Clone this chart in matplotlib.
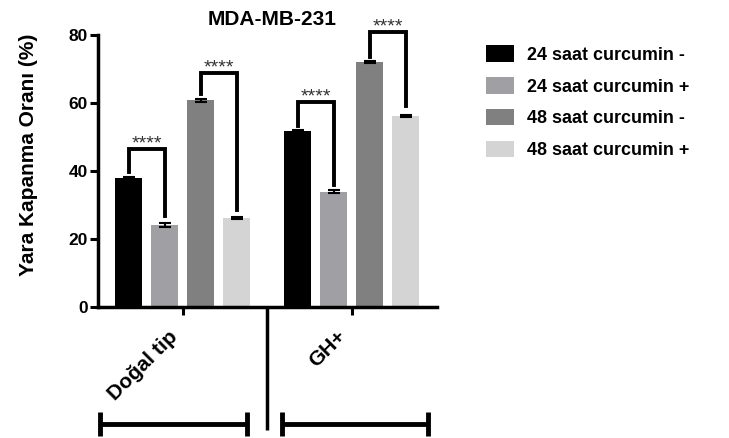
import matplotlib
matplotlib.use("Agg")
import matplotlib.pyplot as plt
from matplotlib.patches import Patch
from matplotlib.transforms import blended_transform_factory
import numpy as np

plt.rcParams['font.family'] = ['Liberation Sans', 'DejaVu Sans']
plt.rcParams['font.weight'] = 'bold'

# Data
groups = ["Doğal tip", "GH+"]
series = ["24 saat curcumin -", "24 saat curcumin +", "48 saat curcumin -", "48 saat curcumin +"]
values = {
    "Doğal tip": [37.8, 24.1, 60.7, 26.2],
    "GH+": [51.8, 33.9, 72.0, 56.2],
}
errors = {
    "Doğal tip": [0.4, 0.5, 0.4, 0.3],
    "GH+": [0.3, 0.4, 0.3, 0.3],
}
colors = ["#000000", "#A0A0A4", "#808080", "#D4D4D4"]
sig_label = "****"
# (left bar index, right bar index, left leg start, bracket top, right leg end)
brackets = [
    (0, 1, 39.8, 46.5, 26.8),
    (2, 3, 62.5, 68.7, 28.5),
    (4, 5, 53.3, 60.2, 35.8),
    (6, 7, 73.4, 80.8, 58.9),
]
yticks = [0, 20, 40, 60, 80]

fig = plt.figure(figsize=(7.29, 4.38), dpi=100)
ax = fig.add_axes([0.134, 0.299, 0.4655, 0.622])

group_centers = np.array([0.0, 4.69])
offsets = np.array([-1.5, -0.5, 0.5, 1.5])
bar_w = 0.75

bar_x = []
for gi, g in enumerate(groups):
    xs = group_centers[gi] + offsets
    ax.bar(xs, values[g], width=bar_w, color=colors, edgecolor='none', zorder=2)
    ax.errorbar(xs, values[g], yerr=errors[g], fmt='none', ecolor='black',
                elinewidth=1.5, capsize=4, capthick=1.5, zorder=3)
    bar_x.extend(xs)

# significance brackets
for (i, j, y_left, y_top, y_right) in brackets:
    x1, x2 = bar_x[i], bar_x[j]
    ax.plot([x1, x1, x2, x2], [y_left, y_top, y_top, y_right], color='black',
            lw=2.8, solid_joinstyle='miter', clip_on=False, zorder=4)
    ax.text((x1 + x2) / 2, y_top + 0.2, sig_label, ha='center', va='baseline',
            fontsize=14, fontweight='normal', color='#333333')

ax.set_xlim(-2.36, 7.06)
ax.set_ylim(0, 80)
ax.set_yticks(yticks)
ax.set_yticklabels([str(t) for t in yticks], fontsize=12.5, fontweight='bold')
ax.set_xticks(group_centers)
ax.set_xticklabels([])

for side in ['top', 'right']:
    ax.spines[side].set_visible(False)
for side in ['left', 'bottom']:
    ax.spines[side].set_linewidth(2.5)
ax.tick_params(axis='y', direction='out', length=6, width=2.2, pad=1)
ax.tick_params(axis='x', direction='out', length=6, width=2.2)

# group labels
for gi, g in enumerate(groups):
    ax.annotate(g, xy=(group_centers[gi], 0), xycoords='data',
                xytext=(-6, -19), textcoords='offset points',
                rotation=45, rotation_mode='anchor', ha='right', va='center',
                fontsize=15, fontweight='bold')

trans = blended_transform_factory(ax.transData, ax.transAxes)
# separator between groups
sep_x = 2.34
ax.plot([sep_x, sep_x], [0, -0.452], transform=trans, color='black', lw=2.5,
        clip_on=False, solid_capstyle='butt')
# group span bars
spans = [(-2.30, 1.775), (2.75, 6.81)]
for (a, b) in spans:
    ax.plot([a, b], [-0.43, -0.43], transform=trans, color='black', lw=3.5,
            clip_on=False, solid_capstyle='butt')
    for xe in (a, b):
        ax.plot([xe, xe], [-0.475, -0.385], transform=trans, color='black',
                lw=3.5, clip_on=False, solid_capstyle='butt')

ax.set_ylabel("Yara Kapanma Oranı (%)", fontsize=15, fontweight='bold')
ax.yaxis.set_label_coords(-0.176, 0.558)
ax.set_title("MDA-MB-231", fontsize=15, fontweight='bold', pad=7)
ax.title.set_x(0.515)

handles = [Patch(facecolor=c, edgecolor='none') for c in colors]
fig.legend(handles, series, loc='upper left', bbox_to_anchor=(0.645, 0.933),
           frameon=False, handlelength=1.55, handleheight=1.05,
           handletextpad=0.72, labelspacing=0.74,
           prop={'weight': 'bold', 'size': 12.9})

fig.savefig("out.png", dpi=100)
